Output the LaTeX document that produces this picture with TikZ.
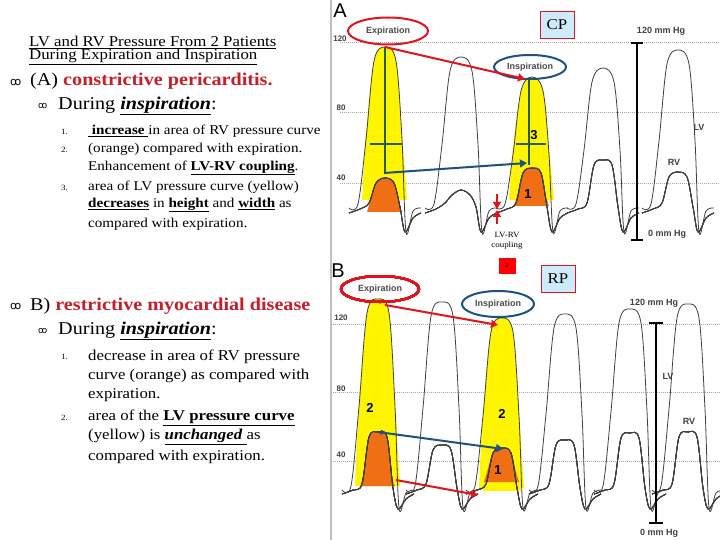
\documentclass[tikz,border=0pt]{standalone}
\usepackage{fontspec}
\setmainfont[FakeStretch=1.12]{Liberation Serif}
\setsansfont{Liberation Sans}
\newfontfamily\symf{DejaVu Sans}
\usetikzlibrary{arrows.meta,shapes.geometric}
\definecolor{tred}{RGB}{200,30,40}
\definecolor{arrred}{RGB}{225,20,30}
\definecolor{arrblue}{RGB}{30,80,130}
\definecolor{gline}{RGB}{40,90,60}
\definecolor{lblue}{RGB}{205,235,250}
\definecolor{orng}{RGB}{240,110,20}
\definecolor{yel}{RGB}{255,245,0}
\tikzset{
 trace/.style={draw=black!75,line width=0.8pt},
 grid/.style={draw=black!35,dash pattern=on 1pt off 1pt,line width=0.6pt},
 tx/.style={anchor=west,inner sep=0pt,font=\fontsize{13.5}{15}\selectfont},
 num/.style={anchor=west,inner sep=0pt,font=\fontsize{8}{9}\selectfont},
 ax/.style={inner sep=0pt,font=\sffamily\bfseries\fontsize{8}{9}\selectfont,text=black!75},
 lab/.style={inner sep=0pt,font=\sffamily\bfseries\fontsize{9}{10}\selectfont,text=black!75},
 big/.style={inner sep=0pt,font=\sffamily\bfseries\fontsize{13}{14}\selectfont},
 tag/.style={draw=arrred,fill=lblue,minimum width=34pt,minimum height=27pt,font=\fontsize{15}{16}\selectfont,inner sep=0pt},
 ra/.style={draw=arrred,line width=2pt,-{Triangle[length=7pt,width=8pt]}},
 ba/.style={draw=arrblue,line width=2pt,-{Triangle[length=7pt,width=8pt]}},
 gl/.style={draw=gline,line width=1.3pt},
 ell/.style={ellipse,line width=2pt,inner sep=0pt},
 etx/.style={inner sep=0pt,font=\sffamily\bfseries\fontsize{9}{10}\selectfont,text=black!70},
 btx/.style={tx,font=\fontsize{15}{17}\selectfont},
}
\newcommand\lvbeat[4]{\draw[trace] plot[smooth,tension=0.55] coordinates {({#1-36},#3) ({#1-27},{#3-4}) ({#1-19},{(#3+#2)/2+12}) ({#1-11},{#2+14}) (#1,#2) ({#1+11},{#2+14}) ({#1+17},{(#3+#2)/2+12}) ({#1+21},#4) ({#1+28},{#3+3}) ({#1+36},#3)};}
\newcommand\rvbeat[4]{\draw[trace] plot[smooth,tension=0.55] coordinates {({#1-36},{#3}) ({#1-25},{#3-4}) ({#1-16},{#3-10}) ({#1-9},{#2+5}) (#1,#2) ({#1+9},{#2+5}) ({#1+15},{#3-6}) ({#1+20},{#4+4}) ({#1+28},{#3+5}) ({#1+36},#3)};}
\newcommand\yfill[3]{\fill[yel] plot[smooth,tension=0.55] coordinates {({#1-23},#3) ({#1-19},{(#3+#2)/2+10}) ({#1-11},{#2+14}) (#1,#2) ({#1+11},{#2+14}) ({#1+17},{(#3+#2)/2+10}) ({#1+22},#3)} -- cycle;}
\newcommand\ofill[3]{\fill[orng] plot[smooth,tension=0.6] coordinates {({#1-18},#3) ({#1-15},{#3-10}) ({#1-9},{#2+5}) (#1,#2) ({#1+9},{#2+5}) ({#1+14},{#3-10}) ({#1+17},#3)} -- cycle;}
\begin{document}
\begin{tikzpicture}[x=1pt,y=-1pt]
\useasboundingbox (0,0) rectangle (720,540);
\fill[white] (0,0) rectangle (720,540);
\draw[black!25,line width=1.5pt] (331,0) -- (331,540);
% ---------- panel A ----------
\foreach \y in {42,112,183} \draw[grid] (340,\y) -- (720,\y);
\node[big,font=\sffamily\fontsize{20}{20}\selectfont] (la) at (340,11) {A};
\node[ax] (a120) at (340,39) {120};
\node[ax] (a80) at (341,108) {80};
\node[ax] (a40) at (341,178) {40};
\yfill{385}{47}{200}
\ofill{385}{178}{212}
\yfill{532}{77}{200}
\ofill{532}{168}{206}
\foreach \x/\p in {385/47,461/57,532/77,603/68,678/50} \lvbeat{\x}{\p}{208}{232}
\foreach \x/\p in {385/178,461/190,532/168,603/160,678/172} \rvbeat{\x}{\p}{213}{228}
\draw[gl] (385,47) -- (385,173) (370,144) -- (402,144);
\draw[gl] (529,78) -- (529,165) (516,144) -- (546,144);
\node[ell,draw=arrred,minimum width=80pt,minimum height=27pt] (expA) at (388,31) {};
\node[etx] (expAt) at (388,31) {Expiration};
\node[ell,draw=arrblue,minimum width=72pt,minimum height=24pt] (insA) at (530,67) {};
\node[etx] (insAt) at (530,67) {Inspiration};
\coordinate (pA1) at (385,47); \coordinate (pA2) at (525,79);
\draw[ra] (pA1) -- (pA2);
\coordinate (bA1) at (384,173); \coordinate (bA2) at (527,163);
\draw[ba] (bA1) -- (bA2);
\node[big] (n3) at (534,135) {3};
\node[big] (n1) at (528,194) {1};
\coordinate (cu1) at (497,194); \coordinate (cu2) at (497,209);
\coordinate (cd1) at (497,224); \coordinate (cd2) at (497,210);
\draw[ra,line width=1.8pt] (cu1) -- (cu2);
\draw[ra,line width=1.8pt] (cd1) -- (cd2);
\node[align=center,inner sep=0pt,font=\fontsize{8}{10}\selectfont] (coup) at (507,241) {LV-RV\\coupling};
\node[fill=red,minimum width=17pt,minimum height=16pt,inner sep=0pt,font=\fontsize{6}{6}\selectfont] (sq) at (507,266) {2};
\node[tag] (cp) at (557,25) {CP};
\coordinate (sA1) at (637,43); \coordinate (sA2) at (637,240);
\draw[black,line width=1.3pt] (sA1) -- (sA2) (631,43) -- (643,43) (631,240) -- (643,240);
\node[lab] (a120m) at (661,31) {120 mm Hg};
\node[lab] (a0m) at (667,234) {0 mm Hg};
\node[lab] (aLV) at (699,127) {LV};
\node[lab] (aRV) at (674,162) {RV};
% ---------- panel B ----------
\foreach \y in {324,392,461} \draw[grid] (333,\y) -- (720,\y);
\node[big,font=\sffamily\fontsize{20}{20}\selectfont] (lb) at (338,271) {B};
\node[ax] (b120) at (341,318) {120};
\node[ax] (b80) at (341,389) {80};
\node[ax] (b40) at (341,455) {40};
\yfill{378}{299}{486}
\ofill{378}{432}{486}
\fill[yel] (483,484) rectangle (521,491);
\yfill{502}{318}{488}
\ofill{502}{448}{482}
\foreach \x/\p in {378/299,442/302,502/318,565/314,630/309,688/304} \lvbeat{\x}{\p}{490}{508}
\foreach \x/\p in {378/432,442/445,502/448,565/440,630/433,688/432} \rvbeat{\x}{\p}{494}{505}
\node[ell,draw=arrred,minimum width=78pt,minimum height=26pt] (expB) at (380,289) {};
\node[etx] (expBt) at (380,289) {Expiration};
\node[ell,draw=arrblue,minimum width=72pt,minimum height=26pt] (insB) at (498,304) {};
\node[etx] (insBt) at (498,304) {Inspiration};
\coordinate (pB1) at (385,305); \coordinate (pB2) at (498,325);
\draw[ra] (pB1) -- (pB2);
\coordinate (bB1) at (378,432); \coordinate (bB2) at (503,449);
\draw[ba,{Triangle[length=4pt,width=5pt]}-{Triangle[length=7pt,width=8pt]}] (bB1) -- (bB2);
\coordinate (rB1) at (396,480); \coordinate (rB2) at (478,495);
\draw[ra] (rB1) -- (rB2);
\node[big] (m2a) at (370,408) {2};
\node[big] (m2b) at (502,414) {2};
\node[big] (m1) at (498,470) {1};
\node[tag] (rp) at (558,279) {RP};
\coordinate (sB1) at (656,323); \coordinate (sB2) at (656,523);
\draw[black,line width=1.3pt] (sB1) -- (sB2) (649,323) -- (663,323) (649,523) -- (663,523);
\node[lab] (b120m) at (654,303) {120 mm Hg};
\node[lab] (b0m) at (659,533) {0 mm Hg};
\node[lab] (bLV) at (668,376) {LV};
\node[lab] (bRV) at (689,421) {RV};
% ---------- left text ----------
\node[tx,font=\fontsize{15}{16}\selectfont] (t1) at (29,42) {\underline{LV and RV Pressure From 2 Patients}};
\node[tx,font=\fontsize{15}{16}\selectfont] (t2) at (29,57) {\underline{During Expiration and Inspiration}};
\node[tx,font=\symf\fontsize{11}{12}\selectfont] (b1) at (10,82) {ꝏ};
\node[tx,font=\fontsize{18}{20}\selectfont] (t3) at (30,81) {(A) \textcolor{tred}{\textbf{constrictive pericarditis.}}};
\node[tx,font=\symf\fontsize{9}{10}\selectfont] (b2) at (38,106) {ꝏ};
\node[tx,font=\fontsize{18}{20}\selectfont] (t4) at (58,106) {During \underline{\textbf{\textit{inspiration}}}:};
\node[num] (k1) at (61,132) {1.};
\node[num] (k2) at (61,150) {2.};
\node[num] (k3) at (61,188) {3.};
\node[tx] (i1) at (88,131) {\underline{ \textbf{increase} }in area of RV pressure curve};
\node[tx] (i1b) at (88,149) {(orange) compared with expiration.};
\node[tx] (i2) at (88,168) {Enhancement of \underline{\textbf{LV-RV coupling}}.};
\node[tx] (i3) at (88,187) {area of LV pressure curve (yellow)};
\node[tx] (i3b) at (88,205) {\underline{\textbf{decreases}} in \underline{\textbf{height}} and \underline{\textbf{width}} as};
\node[tx] (i3c) at (88,224) {compared with expiration.};
\node[tx,font=\symf\fontsize{11}{12}\selectfont] (b3) at (10,306) {ꝏ};
\node[tx,font=\fontsize{18}{20}\selectfont] (t5) at (30,306) {B) \textcolor{tred}{\textbf{restrictive myocardial disease}}};
\node[tx,font=\symf\fontsize{9}{10}\selectfont] (b4) at (38,331) {ꝏ};
\node[tx,font=\fontsize{18}{20}\selectfont] (t6) at (58,331) {During \underline{\textbf{\textit{inspiration}}}:};
\node[num] (l1) at (61,357) {1.};
\node[num] (l2) at (61,418) {2.};
\node[btx] (j1) at (88,357) {decrease in area of RV pressure};
\node[btx] (j1b) at (88,376) {curve (orange) as compared with};
\node[btx] (j1c) at (88,395) {expiration.};
\node[btx] (j2) at (88,418) {area of the \underline{\textbf{LV pressure curve}}};
\node[btx] (j2b) at (88,437) {(yellow) is \underline{\textbf{\textit{unchanged}} }as};
\node[btx] (j2c) at (88,457) {compared with expiration.};
\end{tikzpicture}
\end{document}
